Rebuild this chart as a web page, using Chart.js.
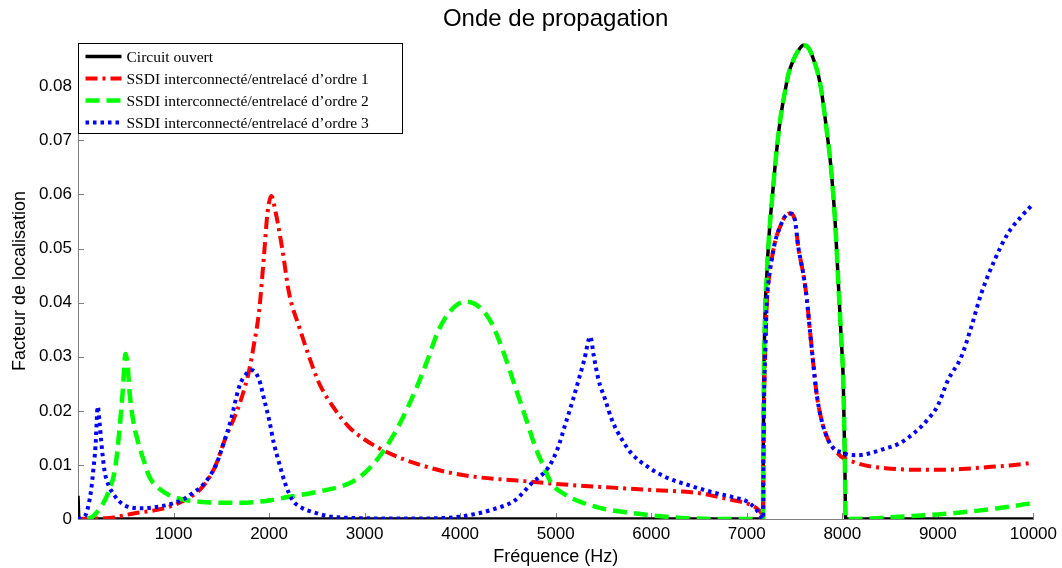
<!DOCTYPE html>
<html>
<head>
<meta charset="utf-8">
<script src="https://cdn.jsdelivr.net/npm/chart.js@4.4.1/dist/chart.umd.min.js"></script>
<style>
  html, body { margin: 0; padding: 0; background: #fff; }
  #wrap { width: 1062px; height: 568px; position: relative; }
</style>
</head>
<body>
<div id="wrap"><canvas id="chart"></canvas></div>
<script>
// tick values
const xTicks = [1000, 2000, 3000, 4000, 5000, 6000, 7000, 8000, 9000, 10000];
const yTicks = [0, 0.01, 0.02, 0.03, 0.04, 0.05, 0.06, 0.07, 0.08];

const seriesNames = [
    'Circuit ouvert',
    'SSDI interconnecté/entrelacé d\u2019ordre 1',
    'SSDI interconnecté/entrelacé d\u2019ordre 2',
    'SSDI interconnecté/entrelacé d\u2019ordre 3'
];

// big lobe shared by open circuit and order 2
const bandFreq = [7170, 7172, 7176, 7182, 7195, 7210, 7218, 7243, 7270, 7295, 7348, 7400, 7440, 7487, 7540, 7592, 7650, 7714, 7750, 7780, 7832, 7884, 7926, 7957, 7990, 8010, 8027, 8035];
const bandVal = [0, 0.010, 0.020, 0.030, 0.040, 0.045, 0.048, 0.0547, 0.060, 0.065, 0.0735, 0.079, 0.0825, 0.0848, 0.0866, 0.0876, 0.0870, 0.0842, 0.082, 0.0793, 0.0725, 0.0645, 0.0547, 0.0442, 0.033, 0.0257, 0.0103, 0];

// small lobe shared by order 1 and order 3
const lobeFreq = [7172, 7175, 7180, 7195, 7210, 7235, 7260, 7300, 7348, 7400, 7452, 7504, 7539, 7591, 7626, 7661, 7696, 7731, 7783, 7853, 7922];
const lobeVal = [0, 0.010, 0.020, 0.032, 0.040, 0.045, 0.0479, 0.0515, 0.054, 0.0559, 0.0565, 0.0553, 0.0503, 0.0454, 0.0411, 0.0349, 0.0288, 0.0232, 0.0183, 0.0146, 0.0128];

// circuit ouvert
const openFreqA = [0, 10, 3000, 7160];
const openValA = [0.0043, 0, 0, 0];
const openFreqB = [8040, 10000];
const openValB = [0, 0];

// ordre 1
const ord1FreqA = [0, 200, 329, 608, 800, 957, 1150, 1301, 1430, 1549, 1630, 1705, 1792, 1844, 1897, 1948, 1983, 2023, 2071, 2140, 2210, 2315, 2419, 2524, 2680, 2837, 3000, 3183, 3400, 3600, 3881, 4200, 4600, 4927, 5300, 5600, 5972, 6300, 6494, 6672, 6850, 7017, 7122, 7165];
const ord1ValA = [0, 0.0001, 0.0002, 0.0011, 0.0016, 0.0023, 0.0038, 0.0059, 0.0095, 0.0152, 0.0185, 0.022, 0.0275, 0.0325, 0.0386, 0.049, 0.0565, 0.0597, 0.0565, 0.0497, 0.0417, 0.0355, 0.030, 0.0251, 0.0205, 0.017, 0.0147, 0.0128, 0.0111, 0.0099, 0.0086, 0.0077, 0.0071, 0.0066, 0.0061, 0.0058, 0.0054, 0.0051, 0.0048, 0.0042, 0.0035, 0.0028, 0.0017, 0.0006];
const ord1FreqB = [7991, 8095, 8200, 8304, 8450, 8587, 8800, 9107, 9300, 9525, 9750, 10000];
const ord1ValB = [0.0115, 0.0107, 0.0101, 0.0097, 0.0094, 0.0092, 0.0091, 0.0091, 0.0093, 0.0096, 0.0099, 0.0104];

// ordre 2
const ord2FreqA = [100, 152, 250, 329, 390, 434, 470, 497, 520, 538, 580, 642, 700, 747, 850, 956, 1100, 1270, 1500, 1688, 1950, 2210, 2500, 2840, 3000, 3183, 3350, 3532, 3650, 3777, 3900, 4056, 4200, 4330, 4450, 4577, 4690, 4787, 4880, 4956, 5100, 5270, 5500, 5795, 6100, 6318, 6700];
const ord2ValA = [0, 0.0004, 0.0025, 0.0054, 0.0095, 0.0165, 0.024, 0.0305, 0.0285, 0.0238, 0.018, 0.0134, 0.0102, 0.0078, 0.0056, 0.0044, 0.0036, 0.0032, 0.003, 0.003, 0.0033, 0.0041, 0.005, 0.0066, 0.0085, 0.0122, 0.017, 0.0238, 0.029, 0.035, 0.0385, 0.0402, 0.0392, 0.0362, 0.031, 0.0244, 0.0185, 0.0133, 0.0095, 0.0066, 0.0045, 0.0031, 0.0019, 0.0011, 0.0005, 0.0002, 0];
const ord2FreqB = [8300, 8590, 8850, 9107, 9400, 9630, 9800, 10000];
const ord2ValB = [0.0001, 0.0004, 0.0007, 0.001, 0.0015, 0.002, 0.0024, 0.003];

// ordre 3
const ord3FreqA = [0, 60, 86, 115, 138, 160, 183, 207, 225, 242, 277, 320, 364, 430, 503, 677, 852, 998, 1100, 1200, 1290, 1374, 1450, 1513, 1600, 1688, 1760, 1823, 1897, 1950, 2001, 2050, 2106, 2170, 2245, 2350, 2454, 2660, 2869, 3200, 3600, 3986, 4150, 4330, 4577, 4748, 4926, 5020, 5104, 5180, 5240, 5300, 5362, 5400, 5449, 5520, 5589, 5700, 5795, 5950, 6144, 6400, 6672, 6843, 7017, 7087, 7140];
const ord3ValA = [0, 0.0003, 0.001, 0.003, 0.0054, 0.009, 0.0134, 0.0208, 0.018, 0.0146, 0.009, 0.0062, 0.0048, 0.0033, 0.0024, 0.002, 0.0023, 0.0029, 0.0036, 0.0048, 0.006, 0.0078, 0.0102, 0.0134, 0.0183, 0.0245, 0.0268, 0.0275, 0.0257, 0.022, 0.0183, 0.014, 0.0103, 0.0065, 0.0035, 0.002, 0.0013, 0.0004, 0.0002, 0.0001, 0.0001, 0.0004, 0.0009, 0.0017, 0.0035, 0.0066, 0.0096, 0.013, 0.0177, 0.022, 0.0257, 0.0295, 0.0337, 0.030, 0.0257, 0.022, 0.0183, 0.0145, 0.0121, 0.0098, 0.0078, 0.0062, 0.0048, 0.0041, 0.0031, 0.002, 0.0008];
const ord3FreqB = [7991, 8061, 8166, 8300, 8409, 8600, 8759, 8900, 9000, 9107, 9246, 9350, 9455, 9595, 9734, 9873, 10000];
const ord3ValB = [0.0124, 0.0119, 0.0118, 0.0122, 0.0128, 0.014, 0.016, 0.0185, 0.021, 0.0257, 0.030, 0.0355, 0.0417, 0.0479, 0.0528, 0.0559, 0.0583];

function toPoints(freqs, vals) {
    return freqs.map((f, i) => ({ x: f, y: vals[i] }));
}

const openPts = toPoints(openFreqA.concat(bandFreq, openFreqB), openValA.concat(bandVal, openValB));
const ord1Pts = toPoints(ord1FreqA.concat(lobeFreq, ord1FreqB), ord1ValA.concat(lobeVal, ord1ValB));
const ord2Pts = toPoints(ord2FreqA.concat(bandFreq, ord2FreqB), ord2ValA.concat(bandVal, ord2ValB));
const ord3Pts = toPoints(ord3FreqA.concat(lobeFreq, ord3FreqB), ord3ValA.concat(lobeVal, ord3ValB));

const styles = [
    { color: '#000000', width: 3.5, dash: [] },
    { color: '#ff0000', width: 4, dash: [12, 5, 3, 5] },
    { color: '#00ff00', width: 4.5, dash: [14, 7] },
    { color: '#0000ff', width: 4, dash: [3.5, 4] }
];

const axisGray = '#808080';

// inward tick marks, title, legend box
const decorations = {
    id: 'decorations',
    beforeDatasetsDraw(chart) {
        const { ctx, chartArea, scales } = chart;
        ctx.save();
        ctx.strokeStyle = axisGray;
        ctx.lineWidth = 1;
        ctx.beginPath();
        xTicks.forEach(v => {
            const px = Math.round(scales.x.getPixelForValue(v)) + 0.5;
            ctx.moveTo(px, chartArea.bottom);
            ctx.lineTo(px, chartArea.bottom - 6);
        });
        yTicks.forEach(v => {
            const py = Math.round(scales.y.getPixelForValue(v)) + 0.5;
            ctx.moveTo(chartArea.left, py);
            ctx.lineTo(chartArea.left + 6, py);
        });
        ctx.stroke();
        ctx.restore();
    },
    afterDraw(chart) {
        const { ctx, chartArea } = chart;
        ctx.save();
        // title
        ctx.fillStyle = '#000';
        ctx.font = '24px "Liberation Sans", Arial, sans-serif';
        ctx.textAlign = 'center';
        ctx.textBaseline = 'middle';
        ctx.fillText('Onde de propagation', (chartArea.left + chartArea.right) / 2, 19);

        // legend
        const bx = chartArea.left + 0.5, by = chartArea.top + 0.5;
        const bw = 324, bh = 90;
        ctx.fillStyle = '#fff';
        ctx.fillRect(bx, by, bw, bh);
        ctx.strokeStyle = '#000';
        ctx.lineWidth = 1;
        ctx.setLineDash([]);
        ctx.strokeRect(bx, by, bw, bh);
        ctx.font = '15.5px "Liberation Serif", "Times New Roman", serif';
        ctx.textAlign = 'left';
        ctx.textBaseline = 'middle';
        seriesNames.forEach((name, i) => {
            const y = by + 13 + i * 22;
            const s = styles[i];
            ctx.strokeStyle = s.color;
            ctx.lineWidth = s.width;
            ctx.setLineDash(s.dash);
            ctx.beginPath();
            ctx.moveTo(bx + 7, y);
            ctx.lineTo(bx + 43, y);
            ctx.stroke();
            ctx.setLineDash([]);
            ctx.fillStyle = '#000';
            ctx.fillText(name, bx + 48, y + 1);
        });
        ctx.restore();
    }
};

const allPts = [openPts, ord1Pts, ord2Pts, ord3Pts];
const drawOrder = [4, 3, 2, 1];

new Chart(document.getElementById('chart'), {
    type: 'line',
    data: {
        datasets: allPts.map((pts, i) => ({
            label: seriesNames[i],
            data: pts,
            borderColor: styles[i].color,
            borderWidth: styles[i].width,
            borderDash: styles[i].dash,
            pointRadius: 0,
            fill: false,
            cubicInterpolationMode: 'monotone',
            order: drawOrder[i]
        }))
    },
    options: {
        responsive: true,
        maintainAspectRatio: false,
        animation: false,
        layout: {
            padding: { top: 43, right: 26, left: 0, bottom: 0 }
        },
        plugins: {
            legend: { display: false },
            title: { display: false },
            tooltip: { enabled: false }
        },
        scales: {
            x: {
                type: 'linear',
                min: 0,
                max: 10000,
                afterBuildTicks: s => { s.ticks = xTicks.map(v => ({ value: v })); },
                afterFit: s => { s.height = 49; },
                grid: { display: false, drawTicks: false },
                border: { color: axisGray, width: 1 },
                ticks: {
                    color: '#000',
                    font: { family: '"Liberation Sans", Arial, sans-serif', size: 17 },
                    padding: 5,
                    maxRotation: 0,
                    autoSkip: false,
                    callback: v => String(v)
                },
                title: {
                    display: true,
                    text: 'Fréquence (Hz)',
                    color: '#000',
                    font: { family: '"Liberation Sans", Arial, sans-serif', size: 18 },
                    padding: { top: 0, bottom: 0 }
                }
            },
            y: {
                min: 0,
                max: 0.088,
                afterBuildTicks: s => { s.ticks = yTicks.map(v => ({ value: v })); },
                afterFit: s => { s.width = 78; },
                grid: { display: false, drawTicks: false },
                border: { color: axisGray, width: 1 },
                ticks: {
                    color: '#000',
                    font: { family: '"Liberation Sans", Arial, sans-serif', size: 17 },
                    padding: 6,
                    callback: v => (v === 0 ? '0' : v.toFixed(2))
                },
                title: {
                    display: true,
                    text: 'Facteur de localisation',
                    color: '#000',
                    font: { family: '"Liberation Sans", Arial, sans-serif', size: 18 },
                    padding: { top: 9, bottom: 0 }
                }
            }
        }
    },
    plugins: [decorations]
});
</script>
</body>
</html>
